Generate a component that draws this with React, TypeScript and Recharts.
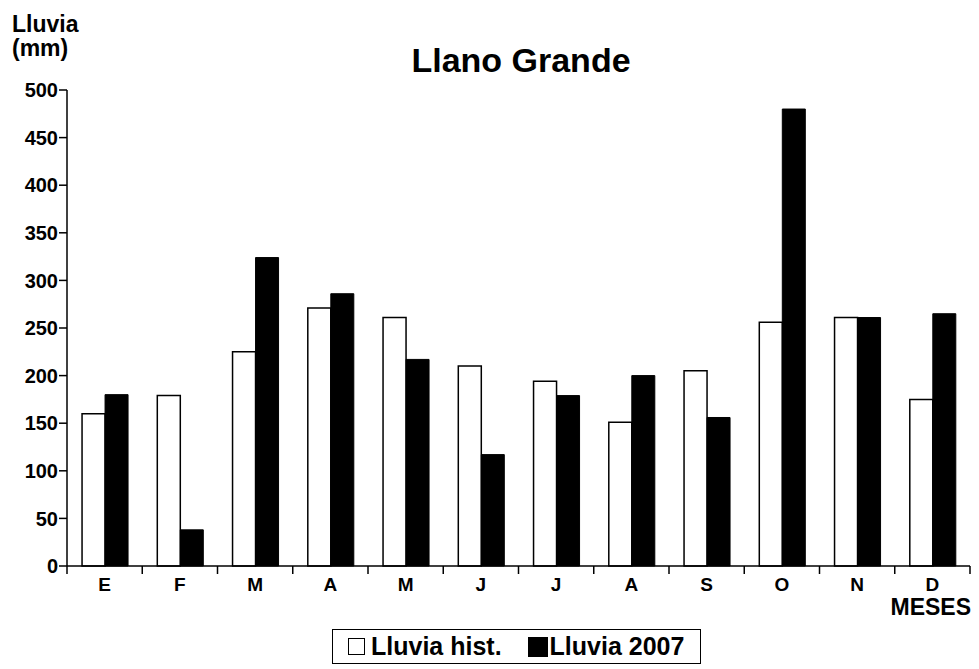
import React from 'react';
import { BarChart, Bar, XAxis, YAxis } from 'recharts';

const months = ['E', 'F', 'M', 'A', 'M', 'J', 'J', 'A', 'S', 'O', 'N', 'D'];
const histValues = [160, 179, 225, 271, 261, 210, 194, 151, 205, 256, 261, 175];
const values2007 = [180, 38, 324, 286, 217, 117, 179, 200, 156, 480, 261, 265];
const yTicks = [0, 50, 100, 150, 200, 250, 300, 350, 400, 450, 500];
const seriesNames = ['Lluvia hist.', 'Lluvia 2007'];

const data = months.map((m, i) => ({ key: i, mes: m, hist: histValues[i], y2007: values2007[i] }));

const FONT = '"Liberation Sans", Arial, sans-serif';

const XTick = (props: any) => {
  const { x, y, payload, index } = props;
  const off = payload && payload.offset ? payload.offset : 903 / 24;
  return (
    <g>
      <line x1={x - off} y1={y - 8} x2={x - off} y2={y} stroke="#000" strokeWidth={1.5} />
      {index === months.length - 1 && (
        <line x1={x + off} y1={y - 8} x2={x + off} y2={y} stroke="#000" strokeWidth={1.5} />
      )}
      <text x={x} y={y + 17} textAnchor="middle" fontFamily={FONT} fontWeight="bold" fontSize={19} fill="#000">
        {months[index]}
      </text>
    </g>
  );
};

export default function App() {
  return (
    <div style={{ position: 'absolute', left: 0, top: 0, width: 979, height: 669, background: '#fff' }}>
      <BarChart
        width={979}
        height={669}
        data={data}
        margin={{ top: 90, right: 9, bottom: 73, left: 7 }}
        barCategoryGap="20%"
        barGap={0}
      >
        <XAxis
          dataKey="key"
          tickLine={false}
          tick={<XTick />}
          axisLine={{ stroke: '#000', strokeWidth: 1.5 }}
          height={30}
          interval={0}
        />
        <YAxis
          domain={[0, 500]}
          ticks={yTicks}
          interval={0}
          width={60}
          tickSize={8}
          tickLine={{ stroke: '#000', strokeWidth: 1.5 }}
          axisLine={{ stroke: '#000', strokeWidth: 1.5 }}
          tick={{ fontFamily: FONT, fontWeight: 'bold', fontSize: 20, fill: '#000' }}
          tickMargin={1}
        />
        <Bar dataKey="hist" name={seriesNames[0]} fill="#fff" stroke="#000" strokeWidth={1.5} isAnimationActive={false} />
        <Bar dataKey="y2007" name={seriesNames[1]} fill="#000" stroke="#000" strokeWidth={1} isAnimationActive={false} />
        <text x={12} y={32} fontFamily={FONT} fontWeight="bold" fontSize={23} fill="#000">Lluvia</text>
        <text x={12} y={56} fontFamily={FONT} fontWeight="bold" fontSize={23} fill="#000">(mm)</text>
        <text x={521} y={72} textAnchor="middle" fontFamily={FONT} fontWeight="bold" fontSize={34} fill="#000">Llano Grande</text>
        <text x={971} y={615} textAnchor="end" fontFamily={FONT} fontWeight="bold" fontSize={23} fill="#000">MESES</text>
      </BarChart>
      <div
        style={{
          position: 'absolute',
          left: 332,
          top: 629,
          width: 369,
          height: 35,
          border: '1.5px solid #000',
          boxSizing: 'border-box',
          display: 'flex',
          alignItems: 'center',
          paddingLeft: 15,
          fontFamily: FONT,
          fontWeight: 'bold',
          fontSize: 25,
          color: '#000',
          whiteSpace: 'nowrap',
        }}
      >
        <span style={{ display: 'inline-block', width: 17, height: 17, border: '1.5px solid #000', boxSizing: 'border-box', background: '#fff', marginRight: 6 }} />
        <span>{seriesNames[0]}</span>
        <span style={{ display: 'inline-block', width: 20, height: 20, background: '#000', marginLeft: 26, marginRight: 2 }} />
        <span>{seriesNames[1]}</span>
      </div>
    </div>
  );
}
